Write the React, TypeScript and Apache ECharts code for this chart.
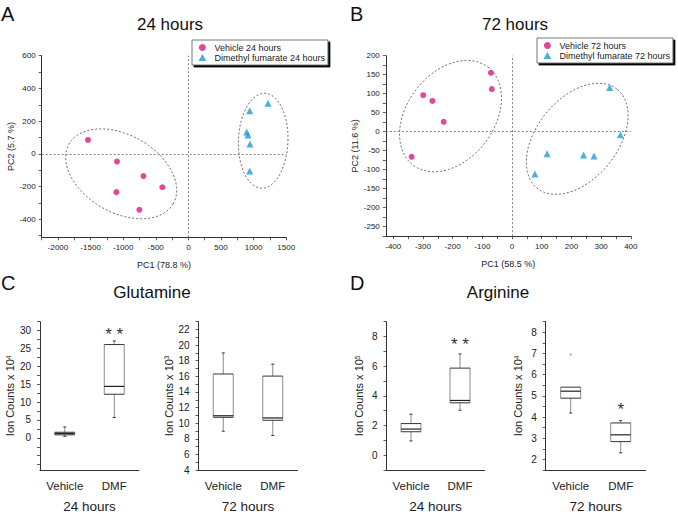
import React, { useEffect, useRef } from 'react';
import * as echarts from 'echarts';

const FONT = "'Liberation Sans', Arial, Helvetica, sans-serif";
const PINK = '#d81b7c';
const BLUE = '#1f9bd7';
const INK = '#222';
const TRIANGLE_ICON = 'path://M5,0L10,9L0,9Z';

// PCA scores [PC1, PC2]
const vehicle24 = [[-1540, 85], [-1095, -47], [-690, -136], [-399, -204], [-1104, -234], [-752, -342]];
const dmf24 = [[940, 263], [1221, 310], [894, 133], [914, 116], [945, 61], [940, -104]];
const vehicle72 = [[-299, 96], [-268, 81], [-230, 26], [-338, -66], [-71, 155], [-68, 112]];
const dmf72 = [[329, 116], [365, -8], [118, -58], [241, -61], [276, -64], [77, -111]];

// Confidence ellipses: [centre PC1, centre PC2, axis1 PC1, axis1 PC2, axis2 PC1, axis2 PC2]
const ellipses24 = [[-1031, -122, 798, -183, -297, -205], [1147, 80, 380, 0, 20, 290]];
const ellipses72 = [[-207, 41, 126, 129, 116.5, -69.5], [219.5, -18.7, 135, 130, 105.4, -66.8]];

const pcaAxLabels = [-2000, -1500, -1000, -500, 0, 500, 1000, 1500];
const pcaAyLabels = [-400, -200, 0, 200, 400, 600];
const pcaBxLabels = [-400, -300, -200, -100, 0, 100, 200, 300, 400];
const pcaByLabels = [-250, -200, -150, -100, -50, 0, 50, 100, 150, 200];

const groups = ['Vehicle', 'DMF'];
// box statistics [min, Q1, median, Q3, max]
const glutamine24 = [[0.45, 0.83, 1.2, 1.56, 3.05], [5.7, 12.2, 14.4, 26.1, 27.1]];
const glutamine72 = [[8.97, 10.75, 10.95, 16.3, 19.0], [8.42, 10.37, 10.67, 16.03, 17.55]];
const arginine24 = [[0.96, 1.58, 1.76, 2.13, 2.76], [3.03, 3.53, 3.69, 5.87, 6.83]];
const arginine72 = [[4.19, 4.89, 5.22, 5.41, 5.41], [2.31, 2.84, 3.16, 3.72, 3.84]];
const arginine72Outliers = [[0, 6.95]];

const glut24Labels = [0, 5, 10, 15, 20, 25, 30];
const glut72Labels = [4, 6, 8, 10, 12, 14, 16, 18, 20, 22];
const arg24Labels = [0, 2, 4, 6, 8];
const arg72Labels = [2, 3, 4, 5, 6, 7, 8];

// significance marks [group index, height, text]
const sigGlut24 = [[1, 29.9, '* *']];
const sigArg24 = [[1, 7.67, '* *']];
const sigArg72 = [[1, 4.5, '*']];

function steps(a: number, b: number, s: number) {
  const r: number[] = [];
  for (let v = a; v <= b + 1e-9; v += s) r.push(+v.toFixed(4));
  return r;
}

const plain = (v: number) => String(v);

function valueAxis(gridIndex: number, min: number, max: number, labels: number[], ticks: number[], extra: any) {
  return {
    type: 'value',
    gridIndex,
    min,
    max,
    axisLine: { show: true, onZero: false, lineStyle: { color: '#333', width: 1 } },
    axisTick: { show: true, customValues: ticks, length: 3, lineStyle: { color: '#333', width: 0.8 } },
    axisLabel: { customValues: labels, formatter: plain, fontSize: 8, color: INK, margin: 6, fontFamily: FONT },
    splitLine: { show: false },
    nameLocation: 'middle',
    nameTextStyle: { fontSize: 9, color: INK, fontFamily: FONT },
    ...extra,
  };
}

function catAxis(gridIndex: number, name: string) {
  return {
    type: 'category',
    gridIndex,
    data: groups,
    boundaryGap: true,
    axisLine: { show: true, onZero: false, lineStyle: { color: '#333', width: 1 } },
    axisTick: { show: false },
    axisLabel: { fontSize: 11.5, color: INK, margin: 10, fontFamily: FONT },
    name,
    nameLocation: 'middle',
    nameGap: 29,
    nameTextStyle: { fontSize: 13.5, color: INK, fontFamily: FONT },
  };
}

function boxValueAxis(gridIndex: number, min: number, max: number, labels: number[], ticks: number[], exp: string) {
  return valueAxis(gridIndex, min, max, labels, ticks, {
    axisLabel: { customValues: labels, formatter: plain, fontSize: 10, color: INK, margin: 9, fontFamily: FONT },
    name: 'Ion Counts x 10{sup|' + exp + '}',
    nameGap: 22,
    nameTextStyle: {
      fontSize: 11,
      color: INK,
      fontFamily: FONT,
      rich: { sup: { fontSize: 6.5, color: INK, fontFamily: FONT, verticalAlign: 'top' } },
    },
  });
}

function renderEllipse(params: any, api: any) {
  const cx = api.value(0), cy = api.value(1);
  const ux = api.value(2), uy = api.value(3), vx = api.value(4), vy = api.value(5);
  const pts: number[][] = [];
  for (let k = 0; k <= 120; k++) {
    const t = (k / 120) * Math.PI * 2;
    pts.push(api.coord([cx + Math.cos(t) * ux + Math.sin(t) * vx, cy + Math.cos(t) * uy + Math.sin(t) * vy]));
  }
  return {
    type: 'polyline',
    shape: { points: pts },
    style: { fill: 'none', stroke: '#444', lineWidth: 0.8, lineDash: [2, 2] },
    silent: true,
  };
}

function renderBox(params: any, api: any) {
  const xi = api.value(0);
  const p = [1, 2, 3, 4, 5].map((d) => api.coord([xi, api.value(d)]));
  const [pMin, pQ1, pMd, pQ3, pMax] = p;
  const cx = pMin[0];
  const hw = 10;
  const ch = 1.5;
  const dark = { stroke: '#333', lineWidth: 1 };
  const light = { stroke: '#8a8a8a', lineWidth: 1 };
  const line = (x1: number, y1: number, x2: number, y2: number, style: any) => ({
    type: 'line',
    shape: { x1, y1, x2, y2 },
    style,
  });
  const children: any[] = [];
  if (pMax[1] < pQ3[1] - 0.5) {
    children.push(line(cx, pMax[1], cx, pQ3[1], light));
    children.push(line(cx - ch, pMax[1], cx + ch, pMax[1], dark));
  }
  children.push(line(cx, pQ1[1], cx, pMin[1], light));
  children.push(line(cx - ch, pMin[1], cx + ch, pMin[1], dark));
  children.push(line(cx - hw, pQ3[1], cx - hw, pQ1[1], light));
  children.push(line(cx + hw, pQ3[1], cx + hw, pQ1[1], light));
  children.push(line(cx - hw, pQ3[1], cx + hw, pQ3[1], dark));
  children.push(line(cx - hw, pQ1[1], cx + hw, pQ1[1], dark));
  children.push(line(cx - hw, pMd[1], cx + hw, pMd[1], { stroke: '#222', lineWidth: 1.2 }));
  return { type: 'group', children };
}

function starRenderer(marks: any[]) {
  return (params: any, api: any) => {
    const p = api.coord([api.value(0), api.value(1)]);
    return {
      type: 'text',
      x: p[0],
      y: p[1] + 3.5,
      style: {
        text: marks[params.dataIndex][2],
        fontSize: 17,
        fontFamily: FONT,
        fill: '#333',
        align: 'center',
        verticalAlign: 'middle',
      },
      silent: true,
    };
  };
}

function boxSeries(axisIndex: number, stats: number[][]) {
  return {
    type: 'custom',
    xAxisIndex: axisIndex,
    yAxisIndex: axisIndex,
    renderItem: renderBox,
    encode: { x: 0, y: [1, 2, 3, 4, 5] },
    data: stats.map((s, i) => [i, ...s]),
    z: 2,
  };
}

function starSeries(axisIndex: number, marks: any[]) {
  return {
    type: 'custom',
    xAxisIndex: axisIndex,
    yAxisIndex: axisIndex,
    renderItem: starRenderer(marks),
    encode: { x: 0, y: 1 },
    data: marks.map((m) => [m[0], m[1]]),
    z: 3,
  };
}

const crossLines = {
  silent: true,
  symbol: ['none', 'none'],
  label: { show: false },
  lineStyle: { color: '#666', width: 0.8, type: [2, 2] },
  data: [{ xAxis: 0 }, { yAxis: 0 }],
};

function legendOpt(names: string[], left: number, top: number) {
  return {
    data: [
      { name: names[0], icon: 'circle' },
      { name: names[1], icon: TRIANGLE_ICON },
    ],
    orient: 'vertical',
    left,
    top,
    padding: [3, 3, 3, 6.5],
    itemGap: 1,
    itemWidth: 14,
    itemHeight: 7,
    selectedMode: false,
    textStyle: { fontSize: 9, color: INK, fontFamily: FONT },
    backgroundColor: '#fff',
    borderColor: '#555',
    borderWidth: 0.8,
    borderRadius: 0,
    shadowColor: '#000',
    shadowBlur: 0,
    shadowOffsetX: 2,
    shadowOffsetY: 2,
  };
}

function titleOpt(text: string, left: number, top: number, size: number, center: boolean) {
  return {
    text,
    left,
    top,
    padding: 0,
    textAlign: center ? 'center' : 'left',
    textStyle: { fontSize: size, fontWeight: 'normal', color: '#111', fontFamily: FONT },
  };
}

export default function App() {
  const ref = useRef<HTMLDivElement>(null);
  useEffect(() => {
    if (!ref.current) return;
    const chart = echarts.init(ref.current, null, { renderer: 'svg' });
    const option: any = {
      animation: false,
      backgroundColor: '#fff',
      textStyle: { fontFamily: FONT },
      title: [
        titleOpt('A', 1, 4, 20, false),
        titleOpt('24 hours', 170, 15.5, 17, true),
        titleOpt('B', 350, 4, 20, false),
        titleOpt('72 hours', 515, 15.5, 17, true),
        titleOpt('C', 1, 273, 20, false),
        titleOpt('Glutamine', 152, 283.5, 17, true),
        titleOpt('D', 350, 273, 20, false),
        titleOpt('Arginine', 498, 284, 17, true),
      ],
      legend: [
        legendOpt(['Vehicle 24 hours', 'Dimethyl fumarate 24 hours'], 192, 40),
        legendOpt(['Vehicle 72 hours', 'Dimethyl fumarate 72 hours'], 537, 38),
      ],
      grid: [
        { left: 41.7, top: 55.7, width: 244.5, height: 181.6 },
        { left: 385.8, top: 55.7, width: 245, height: 180.5 },
        { left: 40, top: 321.7, width: 99, height: 149.3 },
        { left: 198.5, top: 321.7, width: 99, height: 149.3 },
        { left: 386.5, top: 321.7, width: 98, height: 149.3 },
        { left: 545.7, top: 321.7, width: 100, height: 149.3 },
      ],
      xAxis: [
        valueAxis(0, -2250, 1500, pcaAxLabels, steps(-2250, 1500, 250), { name: 'PC1 (78.8 %)', nameGap: 23 }),
        valueAxis(1, -425, 400, pcaBxLabels, steps(-400, 400, 50), { name: 'PC1 (58.5 %)', nameGap: 23 }),
        catAxis(2, '24 hours'),
        catAxis(3, '72 hours'),
        catAxis(4, '24 hours'),
        catAxis(5, '72 hours'),
      ],
      yAxis: [
        valueAxis(0, -510, 600, pcaAyLabels, steps(-500, 600, 100), { name: 'PC2 (5.7 %)', nameGap: 22 }),
        valueAxis(1, -275, 200, pcaByLabels, steps(-275, 200, 25), { name: 'PC2 (11.6 %)', nameGap: 22 }),
        boxValueAxis(2, -9, 32.5, glut24Labels, steps(-7.5, 32.5, 2.5), '4'),
        boxValueAxis(3, 4, 23, glut72Labels, steps(4, 23, 1), '3'),
        boxValueAxis(4, -1, 9, arg24Labels, steps(-1, 9, 1), '5'),
        boxValueAxis(5, 1.5, 8.5, arg72Labels, steps(1.5, 8.5, 0.5), '4'),
      ],
      series: [
        {
          type: 'custom', xAxisIndex: 0, yAxisIndex: 0, renderItem: renderEllipse,
          encode: { x: 0, y: 1 }, data: ellipses24, z: 1,
        },
        {
          type: 'scatter', name: 'Vehicle 24 hours', xAxisIndex: 0, yAxisIndex: 0, data: vehicle24,
          symbol: 'circle', symbolSize: 6, itemStyle: { color: PINK }, z: 3, markLine: crossLines,
        },
        {
          type: 'scatter', name: 'Dimethyl fumarate 24 hours', xAxisIndex: 0, yAxisIndex: 0, data: dmf24,
          symbol: 'triangle', symbolSize: 7, itemStyle: { color: BLUE }, z: 3,
        },
        {
          type: 'custom', xAxisIndex: 1, yAxisIndex: 1, renderItem: renderEllipse,
          encode: { x: 0, y: 1 }, data: ellipses72, z: 1,
        },
        {
          type: 'scatter', name: 'Vehicle 72 hours', xAxisIndex: 1, yAxisIndex: 1, data: vehicle72,
          symbol: 'circle', symbolSize: 6, itemStyle: { color: PINK }, z: 3, markLine: crossLines,
        },
        {
          type: 'scatter', name: 'Dimethyl fumarate 72 hours', xAxisIndex: 1, yAxisIndex: 1, data: dmf72,
          symbol: 'triangle', symbolSize: 7, itemStyle: { color: BLUE }, z: 3,
        },
        boxSeries(2, glutamine24),
        starSeries(2, sigGlut24),
        boxSeries(3, glutamine72),
        boxSeries(4, arginine24),
        starSeries(4, sigArg24),
        boxSeries(5, arginine72),
        starSeries(5, sigArg72),
        {
          type: 'scatter', xAxisIndex: 5, yAxisIndex: 5, data: arginine72Outliers,
          symbol: 'circle', symbolSize: 2, itemStyle: { color: '#888' }, z: 3,
        },
      ],
    };
    chart.setOption(option);
    return () => chart.dispose();
  }, []);
  return (
    <div
      ref={ref}
      style={{ position: 'fixed', left: 0, top: 0, width: 678, height: 514, background: '#fff' }}
    />
  );
}
